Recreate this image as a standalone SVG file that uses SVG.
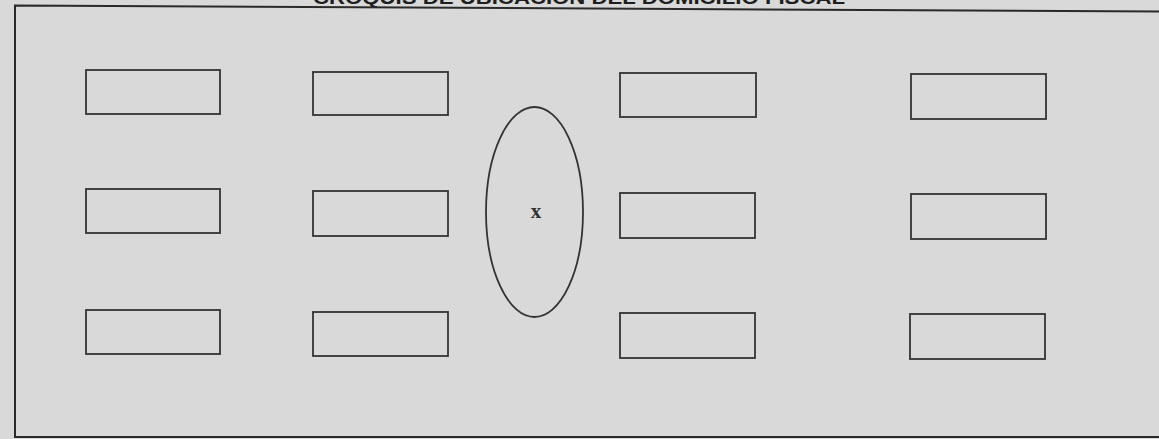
<svg xmlns="http://www.w3.org/2000/svg" width="1159" height="439" viewBox="0 0 1159 439">
<style>
.box{fill:none;stroke:#333;stroke-width:1.8}
.frame{fill:none;stroke:#2a2a2a;stroke-width:2}
.title{font-family:"Liberation Sans",Arial,sans-serif;font-weight:bold;font-size:19px;fill:#1e1e1e}
.lbl{font-family:"Liberation Serif","Times New Roman",serif;font-weight:bold;font-size:21px;fill:#333}
</style>
<rect x="0" y="0" width="1159" height="439" fill="#d9d9d9"/>
<text class="title" x="313" y="4" textLength="532" lengthAdjust="spacingAndGlyphs">CROQUIS DE UBICACIÓN DEL DOMICILIO FISCAL</text>
<path class="frame" d="M1162 11.5 L15 5.5 L15 437 L1162 437"/>
<g id="connectors"></g>
<g id="r1c1"><rect class="box" x="86" y="70" width="134" height="44"/></g>
<g id="r1c2"><rect class="box" x="313" y="72" width="135" height="43"/></g>
<g id="r1c3"><rect class="box" x="620" y="73" width="136" height="44"/></g>
<g id="r1c4"><rect class="box" x="911" y="74" width="135" height="45"/></g>
<g id="r2c1"><rect class="box" x="86" y="189" width="134" height="44"/></g>
<g id="r2c2"><rect class="box" x="313" y="191" width="135" height="45"/></g>
<g id="r2c3"><rect class="box" x="620" y="193" width="135" height="45"/></g>
<g id="r2c4"><rect class="box" x="911" y="194" width="135" height="45"/></g>
<g id="r3c1"><rect class="box" x="86" y="310" width="134" height="44"/></g>
<g id="r3c2"><rect class="box" x="313" y="312" width="135" height="44"/></g>
<g id="r3c3"><rect class="box" x="620" y="313" width="135" height="45"/></g>
<g id="r3c4"><rect class="box" x="910" y="314" width="135" height="45"/></g>
<g id="ellipse"><ellipse class="box" cx="534.5" cy="212" rx="48.5" ry="105"/><text class="lbl" x="536" y="218" text-anchor="middle">x</text></g>
</svg>
